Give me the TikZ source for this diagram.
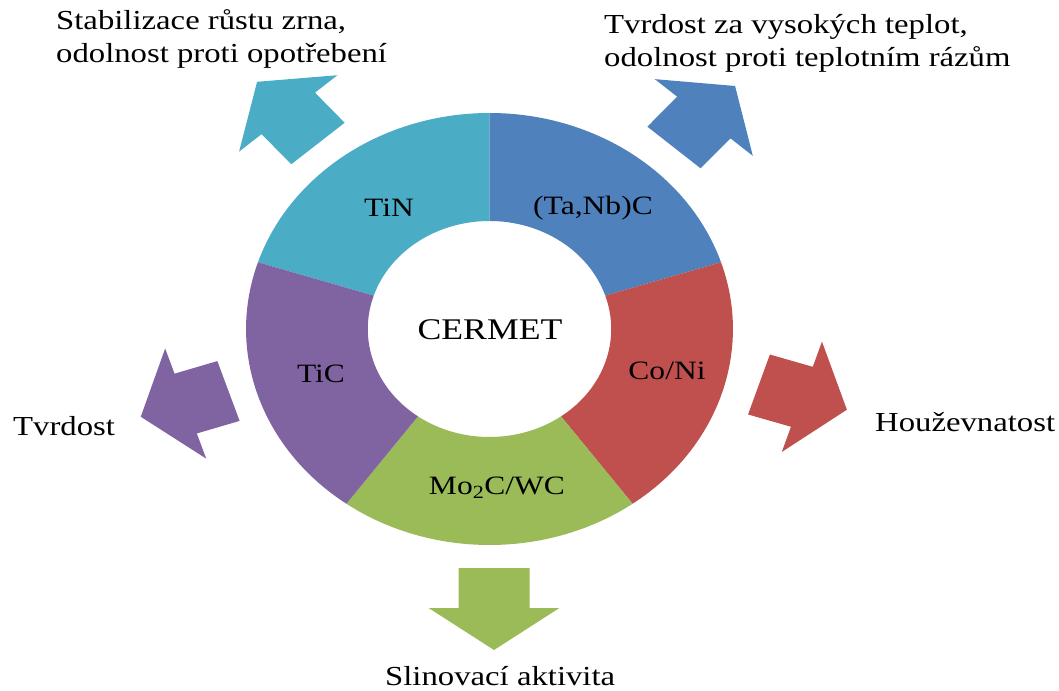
\documentclass[tikz,border=0pt]{standalone}
\usepackage{fontspec}
\setmainfont{Liberation Serif}
\usepackage{graphicx}

\definecolor{cTiN}{HTML}{4BACC6}
\definecolor{cTaNb}{HTML}{4F81BD}
\definecolor{cCoNi}{HTML}{C0504D}
\definecolor{cMoWC}{HTML}{9BBB59}
\definecolor{cTiC}{HTML}{8064A2}

% horizontally widened lettering
\newcommand\widetext[1]{\scalebox{1.19}[1]{#1}}

\tikzset{
  seglabel/.style={inner sep=0pt, anchor=center, font=\fontsize{26.5}{30}\selectfont},
  corelabel/.style={inner sep=0pt, anchor=center, font=\fontsize{30}{34}\selectfont},
  proplabel/.style={inner sep=0pt, anchor=base west, font=\fontsize{27.5}{33}\selectfont}
}

\begin{document}
\begin{tikzpicture}[x=1pt, y=1pt]
\useasboundingbox (-489.5,-361) rectangle (569.5,329);

% ring of five components and the outward block arrows
\begin{scope}[xscale=1.127]
  \foreach \a/\b/\c in {90/162/cTiN, 18/90/cTaNb, -54/18/cCoNi, -126/-54/cMoWC, 162/234/cTiC}
    \fill[\c] (\a:216) arc[start angle=\a, end angle=\b, radius=216]
      -- (\b:108) arc[start angle=\b, end angle=\a, radius=108] -- cycle;

  % block arrow: shaft 40 long, head 42 long
  \foreach \x/\y/\r/\c in {4/-239/-90/cMoWC, 239.1/-55.5/-17.9/cCoNi,
      -231.6/-62/198.3/cTiC, -152.2/185.5/131.2/cTiN, 163.7/181.5/48.6/cTaNb}
    \fill[\c, shift={(\x,\y)}, rotate=\r]
      (0,-31.5) -- (40,-31.5) -- (40,-58) -- (82,0)
      -- (40,58) -- (40,31.5) -- (0,31.5) -- cycle;
\end{scope}

% labels inside the ring
\node[corelabel] (cermet) at (0.5,-1) {\widetext{CERMET}};
\node[seglabel] (tin) at (-100.5,121) {\widetext{TiN}};
\node[seglabel] (tanb) at (103.5,121) {\widetext{(Ta,Nb)C}};
\node[seglabel] (tic) at (-168.5,-45) {\widetext{TiC}};
\node[seglabel] (coni) at (177.5,-42) {\widetext{Co/Ni}};
\node[seglabel] (mowc) at (7.5,-159) {\widetext{Mo\textsubscript{2}C/WC}};

% properties
\node[proplabel] (ptin) at (-433.5,299)
  {\widetext{\begin{tabular}[t]{@{}l@{}}Stabilizace růstu zrna,\\odolnost proti opotřebení\end{tabular}}};
\node[proplabel] (ptanb) at (114.5,295)
  {\widetext{\begin{tabular}[t]{@{}l@{}}Tvrdost za vysokých teplot,\\odolnost proti teplotním rázům\end{tabular}}};
\node[proplabel] (ptic) at (-476.5,-106) {\widetext{Tvrdost}};
\node[proplabel] (pconi) at (385.5,-102.7) {\widetext{Houževnatost}};
\node[proplabel] (pmowc) at (-104.5,-356) {\widetext{Slinovací aktivita}};
\end{tikzpicture}
\end{document}
